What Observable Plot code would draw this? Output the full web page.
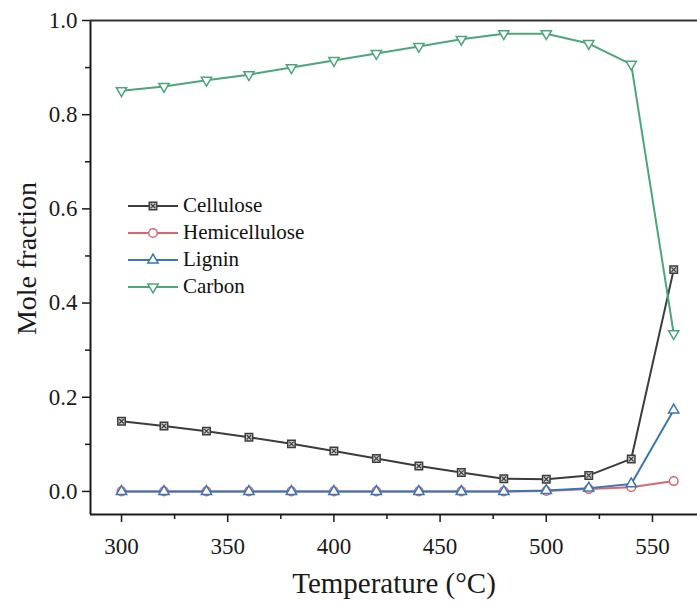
<!DOCTYPE html>
<html><head><meta charset="utf-8">
<script src="https://cdn.jsdelivr.net/npm/d3@7"></script>
<script src="https://cdn.jsdelivr.net/npm/@observablehq/plot@0.6"></script>
<style>
body{margin:0;background:#fff}
#wrap{position:relative;width:697px;height:603px;overflow:hidden;font-family:"Liberation Serif","Times New Roman",serif}
#legend{position:absolute;left:126px;top:192px}
.row{display:flex;align-items:center;height:27px;font-size:21px;color:#111}
.row svg{margin-right:3px}
</style>
</head><body><div id="wrap"><div id="legend"></div></div>
<script>
const temperatures = [300,320,340,360,380,400,420,440,460,480,500,520,540,560];
const cellulose     = [0.149,0.139,0.128,0.115,0.101,0.086,0.070,0.054,0.040,0.027,0.026,0.034,0.069,0.471];
const hemicellulose = [0.000,0.000,0.000,0.000,0.000,0.000,0.000,0.000,0.000,0.000,0.001,0.005,0.009,0.022];
const lignin        = [0.000,0.000,0.000,0.000,0.000,0.000,0.000,0.000,0.000,0.000,0.002,0.007,0.016,0.173];
const carbon        = [0.851,0.860,0.873,0.885,0.900,0.915,0.930,0.945,0.960,0.972,0.972,0.951,0.907,0.335];
const seriesNames   = ["Cellulose","Hemicellulose","Lignin","Carbon"];
const seriesColors  = ["#3c3c3c","#d8686d","#3a76b4","#4ba67a"];
const xTicks = [300,350,400,450,500,550];
const xMinor = [325,375,425,475,525];
const yTicks = [0,0.2,0.4,0.6,0.8,1.0];
const yMinor = [0.1,0.3,0.5,0.7,0.9];

const xDomain = [285.4, 571.2];
const yDomain = [-0.049, 1.0];
const valuesList = [cellulose, hemicellulose, lignin, carbon];
const symbols = ["square","circle","triangle","triangle"];
const rotations = [0,0,0,180];
const radii = [4.2,4.3,3.8,3.8];

const font = '"Liberation Serif","Times New Roman",serif';
const ink = "#1a1a1a";

const marks = [];
seriesNames.forEach((name, k) => {
  const rows = temperatures.map((t, i) => ({t, v: valuesList[k][i]}));
  marks.push(Plot.line(rows, {x: "t", y: "v", stroke: seriesColors[k], strokeWidth: 2}));
  marks.push(Plot.dot(rows, {x: "t", y: "v", symbol: symbols[k], r: radii[k], rotate: rotations[k],
    stroke: seriesColors[k], strokeWidth: 1.5, fill: k === 0 ? "#cfcfcf" : "white"}));
  if (k === 0) marks.push(Plot.dot(rows, {x: "t", y: "v", symbol: "times", r: 2.2, stroke: seriesColors[k], strokeWidth: 1.2}));
});

const chart = Plot.plot({
  width: 697, height: 603,
  marginLeft: 90, marginRight: 0, marginTop: 20, marginBottom: 89,
  style: {fontFamily: font, background: "white", color: ink},
  x: {domain: xDomain},
  y: {domain: yDomain},
  marks: [
    Plot.axisX({ticks: xTicks, tickSize: 8, tickPadding: 15, fontSize: 23, label: null, stroke: ink, strokeWidth: 1.5}),
    Plot.axisX({ticks: xMinor, tickSize: 5, tickFormat: () => "", label: null, stroke: ink, strokeWidth: 1.5}),
    Plot.axisY({ticks: yTicks, tickSize: 8, tickPadding: 5, fontSize: 23, tickFormat: d3.format(".1f"), label: null, stroke: ink, strokeWidth: 1.5}),
    Plot.axisY({ticks: yMinor, tickSize: 5, tickFormat: () => "", label: null, stroke: ink, strokeWidth: 1.5}),
    ...marks,
    Plot.ruleX([xDomain[0]], {stroke: ink, strokeWidth: 2}),
    Plot.ruleY([yDomain[0]], {stroke: ink, strokeWidth: 2}),
    Plot.ruleY([yDomain[1]], {stroke: "#333", strokeWidth: 2}),
    Plot.text(["Temperature (°C)"], {frameAnchor: "bottom", dy: 69, fontSize: 29, lineAnchor: "middle", textAnchor: "middle", fill: ink}),
    Plot.text(["Mole fraction"], {frameAnchor: "left", dx: -63, dy: -9, rotate: -90, fontSize: 28, lineAnchor: "middle", textAnchor: "middle", fill: ink})
  ]
});
document.getElementById("wrap").prepend(chart);

// legend
const legend = d3.select("#legend");
seriesNames.forEach((name, k) => {
  const row = legend.append("div").attr("class", "row");
  const svg = row.append("svg").attr("width", 54).attr("height", 20);
  svg.append("line").attr("x1", 2).attr("x2", 52).attr("y1", 10).attr("y2", 10)
    .attr("stroke", seriesColors[k]).attr("stroke-width", 2);
  const sym = {square: d3.symbolSquare, circle: d3.symbolCircle, triangle: d3.symbolTriangle}[symbols[k]];
  const size = Math.PI * radii[k] * radii[k];
  svg.append("path").attr("d", d3.symbol(sym, size)())
    .attr("transform", `translate(27,10) rotate(${rotations[k]})`)
    .attr("fill", k === 0 ? "#cfcfcf" : "white").attr("stroke", seriesColors[k]).attr("stroke-width", 1.5);
  if (k === 0) svg.append("path").attr("d", d3.symbol(d3.symbolTimes, Math.PI * 2.2 * 2.2)())
    .attr("transform", "translate(27,10)").attr("fill", "none").attr("stroke", seriesColors[k]).attr("stroke-width", 1.2);
  row.append("span").text(name);
});
</script>
</body></html>
